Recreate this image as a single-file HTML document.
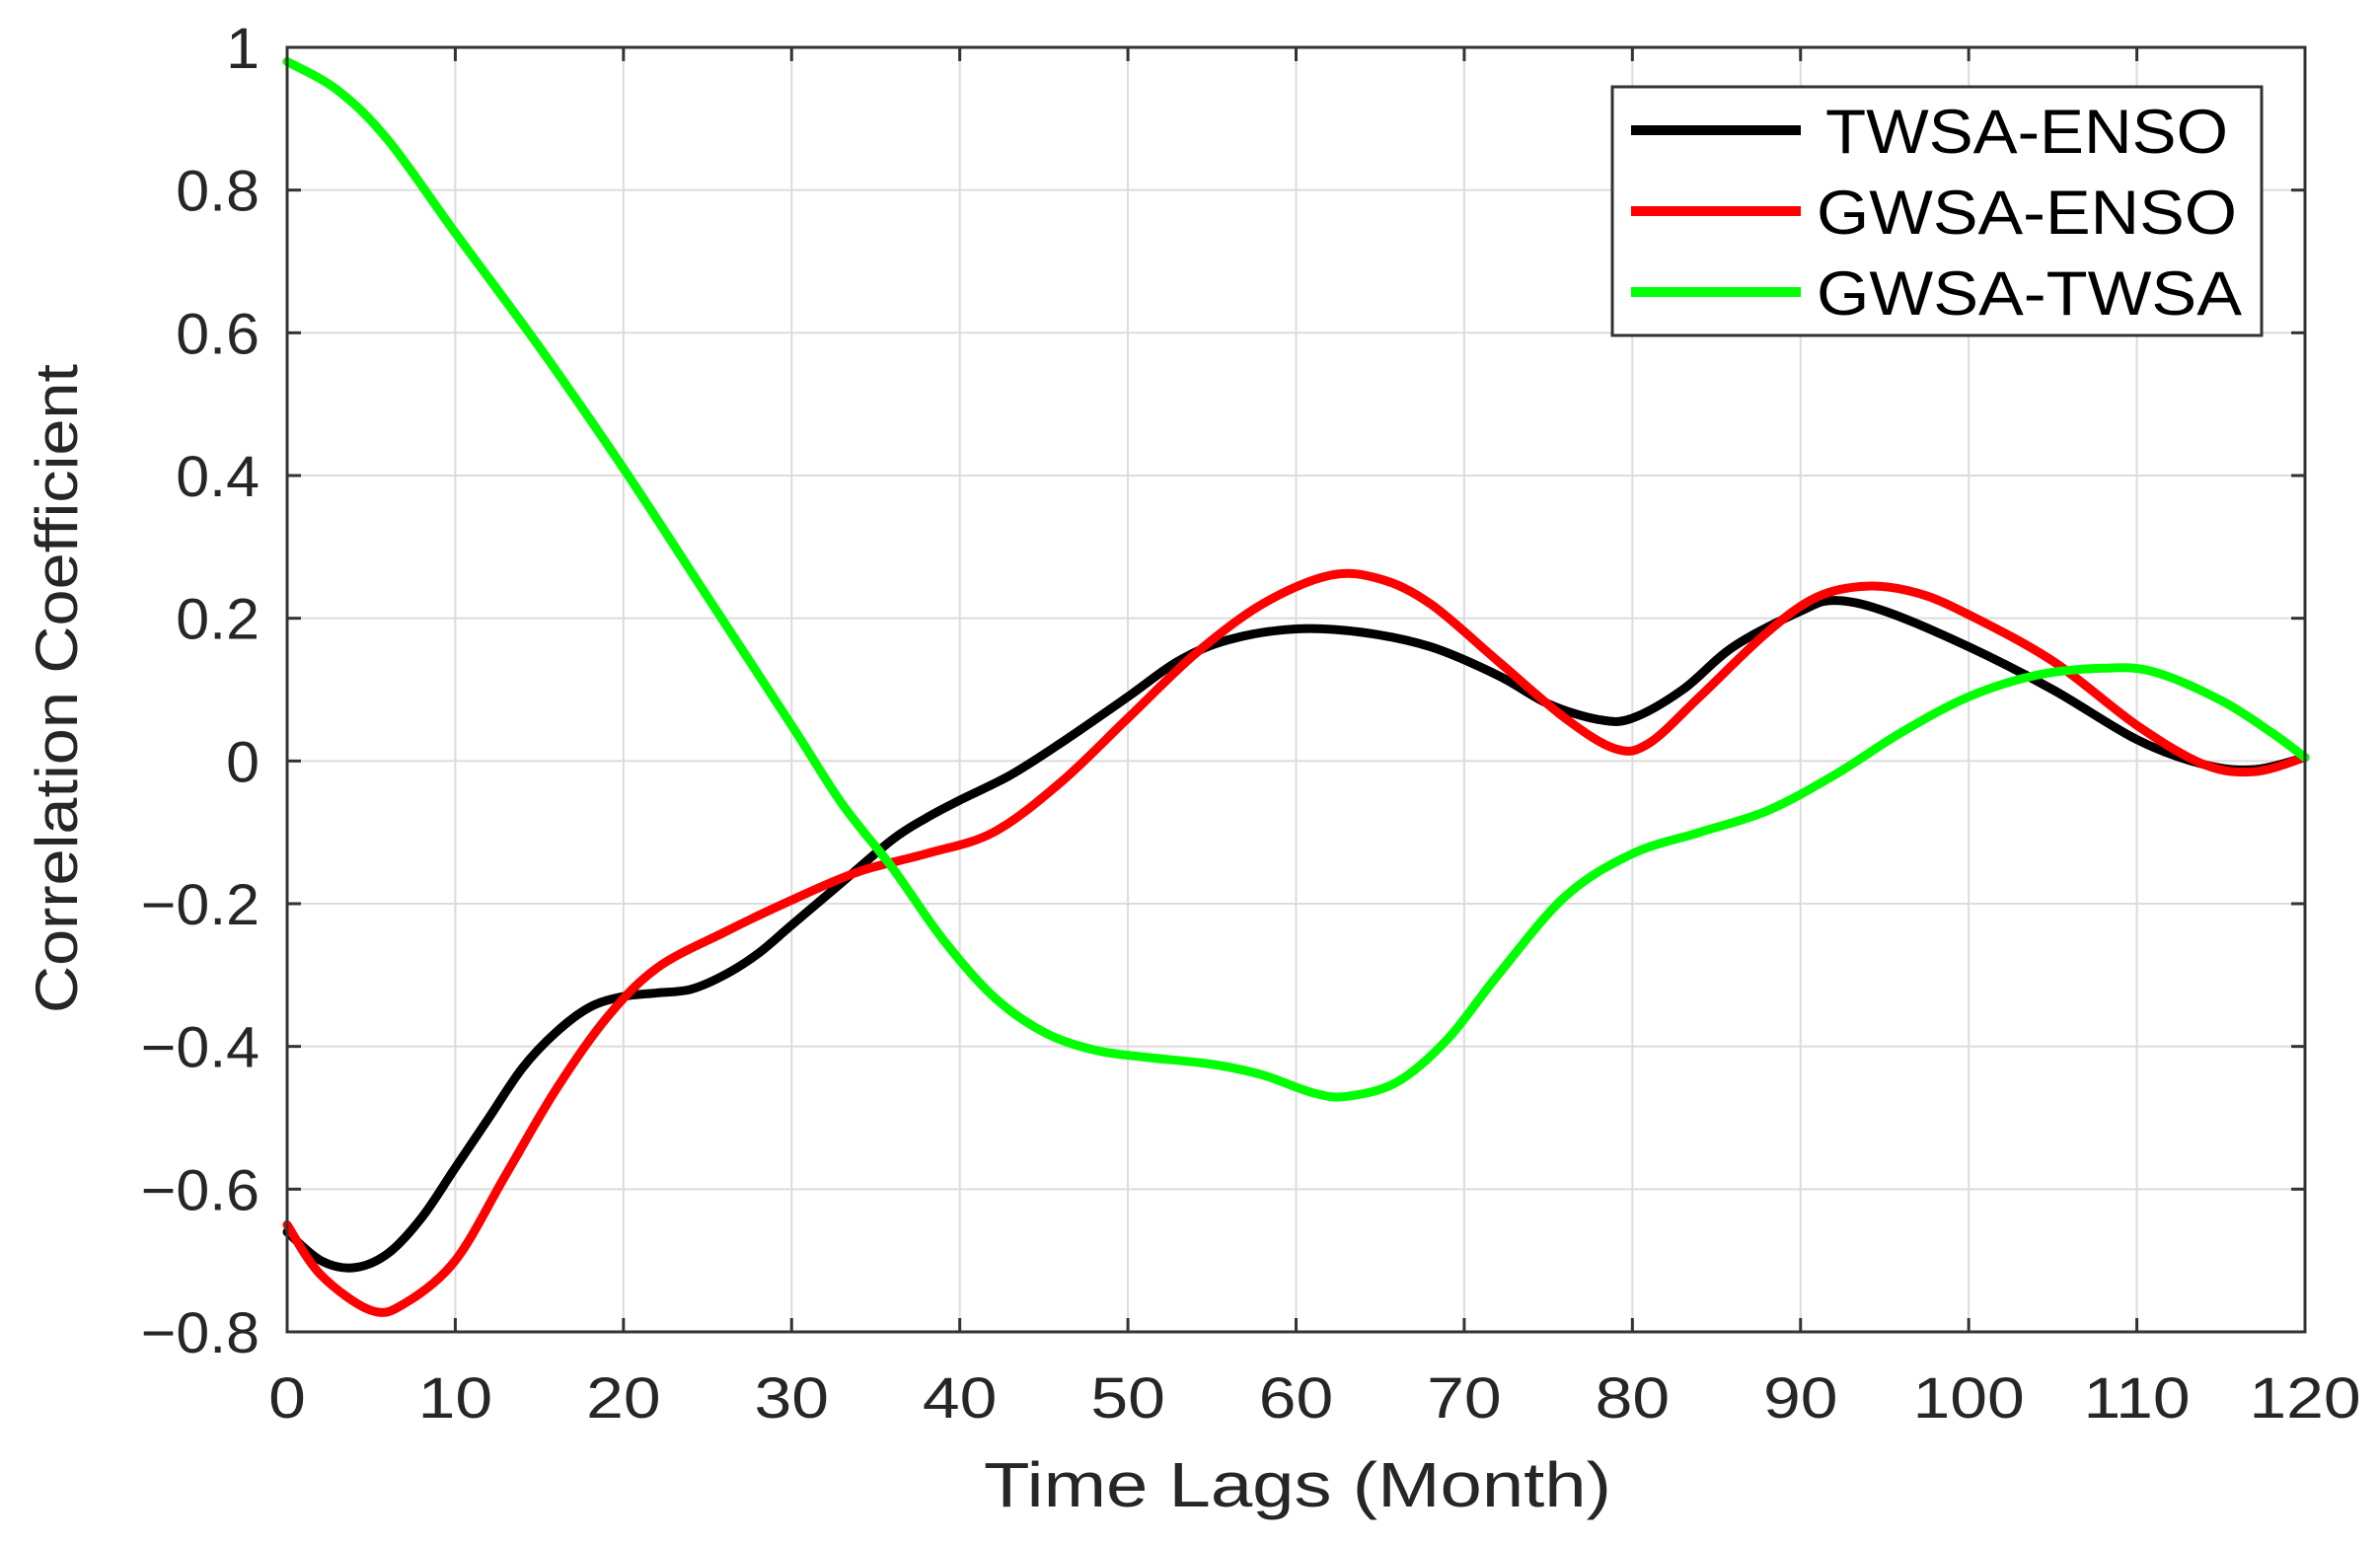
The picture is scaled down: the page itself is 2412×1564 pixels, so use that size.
<!DOCTYPE html>
<html><head><meta charset="utf-8"><style>
html,body{margin:0;padding:0;background:#fff;}
svg{display:block;font-family:"Liberation Sans",sans-serif;}
</style></head><body>
<svg id="s" width="2412" height="1564" viewBox="0 0 2412 1564" xmlns="http://www.w3.org/2000/svg">
<rect width="2412" height="1564" fill="#fff"/>
<g id="grid" stroke="#dcdcdc" stroke-width="2"></g>
<g id="ticks" stroke="#333" stroke-width="3"></g>
<g id="lines" fill="none" stroke-linecap="round" stroke-linejoin="round"></g>
<rect x="291" y="48" width="2045" height="1302" fill="none" stroke="#333" stroke-width="3"/>
<g id="labels" fill="#262626" font-size="58"></g>
<text x="997" y="1527" font-size="64" fill="#262626" textLength="636" lengthAdjust="spacingAndGlyphs">Time Lags (Month)</text>
<text transform="translate(78,1027) rotate(-90)" font-size="60" fill="#262626" textLength="658" lengthAdjust="spacingAndGlyphs">Correlation Coefficient</text>
<rect x="1634" y="88" width="658" height="252" fill="#fff" stroke="#333" stroke-width="3"/>
<line x1="1653" y1="132" x2="1825" y2="132" stroke="#000" stroke-width="10"/>
<line x1="1653" y1="214" x2="1825" y2="214" stroke="#f00" stroke-width="10"/>
<line x1="1653" y1="296" x2="1825" y2="296" stroke="#0f0" stroke-width="10"/>
<text x="1850" y="155" font-size="63" fill="#000" textLength="408" lengthAdjust="spacingAndGlyphs">TWSA-ENSO</text>
<text x="1841" y="237" font-size="63" fill="#000" textLength="426" lengthAdjust="spacingAndGlyphs">GWSA-ENSO</text>
<text x="1841" y="319" font-size="63" fill="#000" textLength="431" lengthAdjust="spacingAndGlyphs">GWSA-TWSA</text>
</svg>
<script>
const X0=291,X1=2336,Y0=48,Y1=1350;
const sx=v=>X0+(X1-X0)*v/120, sy=v=>Y0+(1-v)/1.8*(Y1-Y0);
const ns="http://www.w3.org/2000/svg";
function el(p,t,a,txt){const e=document.createElementNS(ns,t);for(const k in a)e.setAttribute(k,a[k]);if(txt!==undefined)e.textContent=txt;document.getElementById(p).appendChild(e);return e;}
function stretch(e,f,anchor,x){const w=e.getComputedTextLength()*f;e.setAttribute("textLength",w);e.setAttribute("lengthAdjust","spacingAndGlyphs");e.removeAttribute("text-anchor");e.setAttribute("x",anchor==="middle"?x-w/2:x-w);}
for(let i=0;i<=12;i++){const x=sx(i*10);
 if(i>0&&i<12)el("grid","line",{x1:x,y1:Y0,x2:x,y2:Y1});
 el("ticks","line",{x1:x,y1:Y1,x2:x,y2:Y1-14});el("ticks","line",{x1:x,y1:Y0,x2:x,y2:Y0+14});
 const e=el("labels","text",{x:x,y:1437},String(i*10));stretch(e,1.17,"middle",x);}
for(let i=0;i<=9;i++){const v=1-i*0.2;const y=sy(v);
 if(i>0&&i<9)el("grid","line",{x1:X0,y1:y,x2:X1,y2:y});
 el("ticks","line",{x1:X0,y1:y,x2:X0+14,y2:y});el("ticks","line",{x1:X1,y1:y,x2:X1-14,y2:y});
 let t=Math.abs(v)<1e-9?"0":(Math.abs(v-1)<1e-9?"1":(v<0?"\u2212"+(-v).toFixed(1):v.toFixed(1)));
 const e=el("labels","text",{x:263,y:y+21},t);stretch(e,1.05,"end",263);}
const B=[[0,-0.66],[2,-0.70],[4,-0.71],[6,-0.69],[8,-0.64],[10,-0.57],[12,-0.50],[14,-0.43],[16,-0.38],[18,-0.345],[20,-0.33],[22,-0.325],[24,-0.32],[26,-0.30],[28,-0.27],[30,-0.23],[33,-0.17],[36,-0.11],[38,-0.08],[40,-0.055],[43,-0.02],[46,0.025],[50,0.09],[53,0.14],[56,0.17],[60,0.185],[64,0.18],[68,0.16],[72,0.12],[75,0.08],[78,0.058],[80,0.06],[83,0.10],[86,0.16],[90,0.21],[92,0.225],[95,0.21],[100,0.16],[105,0.10],[110,0.03],[114,-0.005],[117,-0.012],[120,0.005]];
const R=[[0,-0.65],[2,-0.72],[5,-0.77],[7,-0.76],[10,-0.70],[13,-0.58],[16,-0.46],[19,-0.36],[22,-0.29],[26,-0.24],[30,-0.195],[34,-0.155],[38,-0.13],[42,-0.10],[46,-0.03],[50,0.06],[54,0.15],[58,0.22],[62,0.26],[65,0.255],[68,0.22],[72,0.14],[76,0.06],[79,0.017],[81,0.025],[84,0.09],[88,0.18],[91,0.23],[94,0.245],[97,0.235],[100,0.205],[105,0.14],[110,0.05],[114,-0.005],[117,-0.015],[120,0.005]];
const G=[[0,0.98],[3,0.94],[6,0.87],[10,0.74],[15,0.58],[20,0.41],[25,0.23],[30,0.05],[33,-0.06],[36,-0.15],[39,-0.25],[42,-0.33],[45,-0.38],[48,-0.405],[51,-0.415],[55,-0.425],[58,-0.44],[61,-0.465],[63,-0.47],[66,-0.45],[69,-0.39],[72,-0.30],[76,-0.19],[80,-0.13],[84,-0.10],[88,-0.07],[92,-0.02],[96,0.04],[100,0.09],[104,0.12],[108,0.13],[111,0.125],[115,0.085],[118,0.04],[120,0.005]];
function path(d){const p=d.map(a=>[sx(a[0]),sy(a[1])]);let s="M"+p[0][0]+","+p[0][1];
 for(let i=0;i<p.length-1;i++){const a=p[Math.max(0,i-1)],b=p[i],c=p[i+1],e=p[Math.min(p.length-1,i+2)];
  s+=" C"+(b[0]+(c[0]-a[0])/6)+","+(b[1]+(c[1]-a[1])/6)+" "+(c[0]-(e[0]-b[0])/6)+","+(c[1]-(e[1]-b[1])/6)+" "+c[0]+","+c[1];}
 return s;}
el("lines","path",{d:path(B),stroke:"#000","stroke-width":9});
el("lines","path",{d:path(R),stroke:"#f00","stroke-width":9});
el("lines","path",{d:path(G),stroke:"#0f0","stroke-width":9});
</script>
</body></html>
